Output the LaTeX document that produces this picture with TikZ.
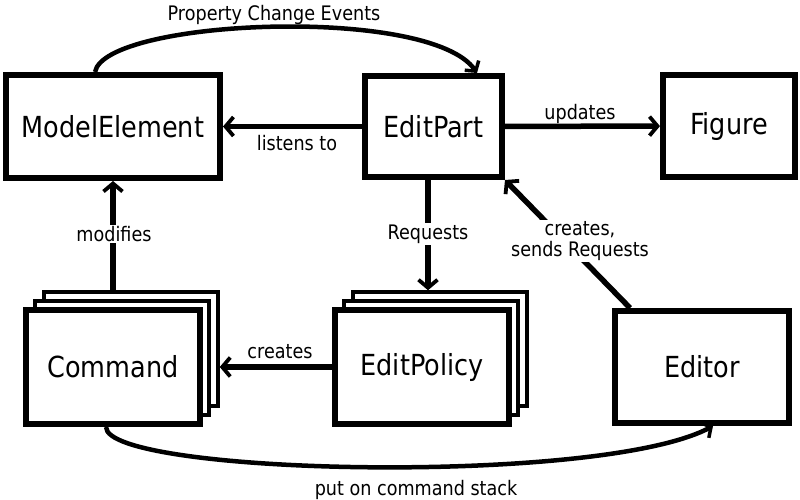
\documentclass[tikz,border=0pt]{standalone}
\usepackage{fontspec}
\setmainfont{DejaVu Sans}[FakeStretch=0.88]
\usetikzlibrary{arrows.meta}
\begin{document}
\begin{tikzpicture}[x=1pt,y=-1pt,
  box/.style={draw, line width=6pt, fill=white, font=\fontsize{29}{34}\selectfont, inner sep=0pt},
  backbox/.style={draw, line width=3.5pt, fill=white, minimum width=174pt, minimum height=114pt},
  conn/.style={line width=5.5pt, -{Straight Barb[length=8pt,width=19pt,line width=3.8pt]}},
  curv/.style={line width=4.5pt, -{Straight Barb[length=7pt,width=17pt,line width=3.5pt]}},
  lbl/.style={font=\fontsize{20}{21}\selectfont, inner sep=1.5pt},
  lblw/.style={lbl, fill=white}]
\useasboundingbox (0,0) rectangle (800,500);
\fill[white] (0,0) rectangle (800,500);

% top row
\node[box, minimum width=214pt, minimum height=103pt] (model) at (113,126.5) {ModelElement};
\node[box, minimum width=137pt, minimum height=101pt] (editpart) at (433.5,126.5) {EditPart};
\node[box, minimum width=132pt, minimum height=102pt] (figure) at (729,126) {Figure};

% Command stack
\node[backbox] (cmdback) at (131,349) {};
\node[backbox] (cmdmid) at (122,358) {};
\node[box, minimum width=174pt, minimum height=114pt] (cmd) at (113,367) {Command};

% EditPolicy stack
\node[backbox] (polback) at (440,349) {};
\node[backbox] (polmid) at (431,358) {};
\node[box, minimum width=174pt, minimum height=114pt] (pol) at (422,367) {EditPolicy};

% Editor
\node[box, minimum width=174pt, minimum height=112pt] (editor) at (702,367) {Editor};

% straight connectors
\draw[conn] (editpart) -- (model);
\draw[conn] (editpart) -- (figure);
\draw[conn] ([xshift=-5.5pt]editpart.south) -- ([xshift=-5.5pt]editpart.south |- cmdback.north);
\draw[conn] (model.south |- cmdback.north) -- (model.south);
\draw[conn] (pol.west) -- (pol.west -| cmdback.east);
\draw[conn] ([xshift=18pt]editor.north west) -- (editpart.south east);

% curved connectors
\draw[curv] ([xshift=-18pt]model.north) .. controls +(10,-53) and +(-47,-68) .. ([xshift=43.5pt]editpart.north);
\draw[curv] ([xshift=-7pt]cmd.south) .. controls +(0,48) and +(-113,60) .. ([xshift=11pt]editor.south);

% labels
\node[lblw] (lmod) at (114,234) {modifies};
\node[lblw] (lreq) at (428,234) {Requests};
\node[lblw, align=center] (lsend) at (580,241) {creates,\\sends Requests};
\node[lbl] (llis) at (297,143) {listens to};
\node[lbl] (lupd) at (580,114) {updates};
\node[lbl] (lcre) at (280,352) {creates};
\node[lbl] (lpce) at (274,15) {Property Change Events};
\node[lbl] (lput) at (416,490) {put on command stack};
\end{tikzpicture}
\end{document}
